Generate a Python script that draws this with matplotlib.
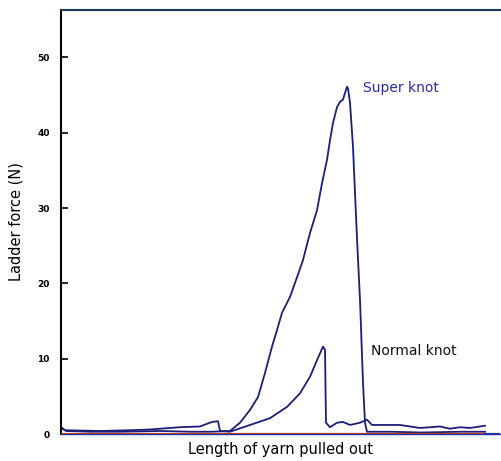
import matplotlib
matplotlib.use("Agg")
import matplotlib.pyplot as plt

# Data (x: arbitrary length units, y: ladder force in N)
super_x = [0, 5, 30, 60, 100, 130, 150, 169, 179, 189, 197, 204, 211, 216, 221, 229, 236,
           242, 249, 256, 261, 266, 269, 272, 276, 279, 282, 284, 286, 287, 289, 292, 296,
           299, 302, 304, 306, 330, 360, 400, 424]
super_y = [0.9, 0.4, 0.3, 0.3, 0.4, 0.3, 0.3, 0.4, 1.5, 3.2, 4.9, 8.1, 11.6, 13.8, 16.1, 18.2, 20.8,
           23.1, 26.7, 29.7, 33.3, 36.4, 39.0, 41.3, 43.4, 44.1, 44.4, 45.3, 46.1, 45.9, 44.0, 38.1, 26.0,
           17.8, 6.8, 1.5, 0.3, 0.3, 0.2, 0.3, 0.3]

normal_x = [0, 4, 39, 69, 89, 119, 139, 151, 157, 159, 169, 189, 209, 226, 239, 249,
            256, 262, 264, 265, 269, 276, 282, 289, 299, 306, 311, 319, 339, 359, 379,
            389, 399, 409, 424]
normal_y = [0.8, 0.5, 0.4, 0.5, 0.6, 0.9, 1.0, 1.6, 1.7, 0.4, 0.3, 1.2, 2.1, 3.6, 5.4, 7.6,
            9.8, 11.6, 11.2, 1.5, 0.9, 1.5, 1.6, 1.2, 1.5, 1.9, 1.2, 1.2, 1.2, 0.8, 1.0,
            0.7, 0.9, 0.8, 1.1]

yticks = [0, 10, 20, 30, 40, 50]
labels = {"super": "Super knot", "normal": "Normal knot"}

fig = plt.figure(figsize=(5.01, 4.61), dpi=100)
ax = fig.add_axes([61/501, 27/461, 439/501, 424/461])

line_color = "#1b1f78"
ax.plot(super_x, super_y, color=line_color, lw=1.3)
ax.plot(normal_x, normal_y, color=line_color, lw=1.3)
ax.plot([0, 424], [0, 0], color="#b0402a", lw=1.6, zorder=3)
ax.plot([424, 439], [0, 0], color="#2030a0", lw=1.6, zorder=3)

ax.text(302, 46, labels["super"], color="#2a2ab0", fontsize=10, va="center", ha="left")
ax.text(310, 11, labels["normal"], color="#111111", fontsize=10, va="center", ha="left")

ax.set_xlim(0, 439)
ax.set_ylim(0, 56.3)
ax.set_yticks(yticks)
ax.set_yticklabels([str(t) for t in yticks], fontsize=6.5, fontweight="bold")
ax.set_xticks([])
ax.tick_params(axis="y", direction="in", length=5, width=1.2, pad=8)
ax.spines["right"].set_visible(False)
ax.spines["left"].set_linewidth(1.5)
ax.spines["top"].set_linewidth(1.5)
ax.spines["top"].set_color("#1a3a5a")
ax.spines["bottom"].set_linewidth(1.0)
ax.spines["bottom"].set_color("#2030a0")

ax.set_ylabel("Ladder force (N)", fontsize=10.5, labelpad=10)
ax.set_xlabel("Length of yarn pulled out", fontsize=10.5, labelpad=6)

fig.savefig("out.png", dpi=100)
